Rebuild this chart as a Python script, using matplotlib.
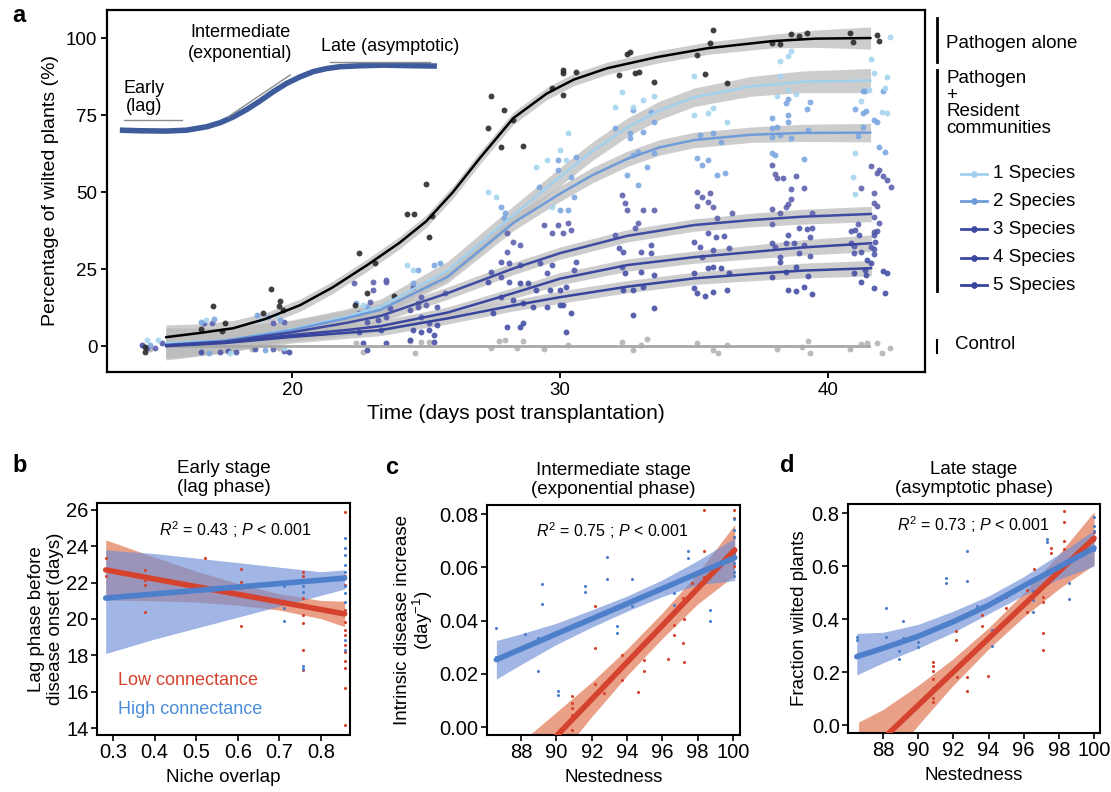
import numpy as np
import matplotlib
matplotlib.use("Agg")
import matplotlib.pyplot as plt
from matplotlib.lines import Line2D

plt.rcParams["font.family"] = ["Liberation Sans", "DejaVu Sans"]
plt.rcParams["mathtext.fontset"] = "custom"
plt.rcParams["mathtext.rm"] = "Liberation Sans"
plt.rcParams["mathtext.it"] = "Liberation Sans:italic"
plt.rcParams["font.size"] = 13

W, H = 1111, 792

# ---------------- panel a data ----------------
# (day, % wilted) observations
pathogen_pts = [(14.5, -0.3), (14.5, -2), (17.05, 13), (16.6, 5.5), (17.5, 7.5), (17.4, 4.9),
                (19.2, 18.5), (18.9, 10.7), (19.55, 14.6), (19.5, 13), (19.66, 11.7),
                (22.8, 17.2), (22.35, 13.3), (22.5, 30.2), (23.1, 27), (23.8, 16.2),
                (24.3, 42.9), (24.55, 42.9), (25.2, 42.2), (25.1, 35.4), (25.0, 52.6),
                (27.4, 81.2), (27.3, 70.8), (27.9, 76.6), (28.25, 73.4), (27.8, 64.6), (28.6, 64.9),
                (30.1, 89.6), (30.1, 88.6), (29.7, 83.8), (30.1, 81.5), (30.6, 89),
                (32.6, 95.5), (32.5, 94.8), (32.2, 88), (32.95, 89), (32.8, 88.6), (33.5, 85.7),
                (35.7, 102.6), (35.6, 98.4), (35.1, 94.5), (35.4, 88.3), (36.2, 85.4),
                (38.6, 101.3), (39.2, 101.6), (38.9, 100.6), (37.9, 98.4), (38.2, 98),
                (40.8, 101.6), (40.9, 98.7), (41.8, 101), (41.9, 99)]

control_pts = [(14.7, -1), (18.5, -1), (19.5, -0.5), (22.4, 1), (22.65, -1.9), (24.6, -2.3), (24.4, 1.6),
               (24.8, 1.3), (25.1, 1.3), (27.4, -0.6), (27.7, 1.6), (27.95, 1.9), (28.4, -0.6),
               (28.6, 1.6), (29.4, -1), (30.3, 0.3), (32.3, 1.3), (32.7, -1.3), (33.0, 0.3),
               (33.25, 2.3), (35.1, 1), (35.7, -1.3), (35.9, -2.3), (36.2, 0.3), (38.1, -1),
               (39.0, -0.3), (39.25, 1.6), (39.3, -2.3), (40.8, -1), (41.2, 0.6), (41.45, 1),
               (41.8, 1), (42.0, -2.3), (42.3, -0.6)]

sp1_pts = [(14.6, 1.9), (15.0, 1.9), (16.8, 8.4), (17.7, -2.3), (18.8, 8.4), (19.4, 10), (19.7, -0.6),
           (22.65, 13.3), (24.3, 26.3), (24.5, 24.7), (27.3, 50), (27.6, 48.4), (29.1, 58.1),
           (29.5, 60.4), (30.0, 63.6), (29.7, 45.1), (30.3, 69.2), (30.2, 60.4), (32.3, 82.5),
           (32.05, 77.6), (32.7, 77.6), (33.1, 79.9), (33.5, 81.2), (35.0, 87.7), (35.0, 75),
           (35.5, 75.6), (35.7, 77.3), (36.2, 72.7), (38.6, 95.8), (38.5, 94.2), (38.2, 92.5),
           (38.2, 87.7), (38.1, 81.2), (38.5, 83.1), (38.8, 81.8), (41.6, 93.2), (41.7, 88.6),
           (42.2, 87.3), (42.3, 100.3), (42.1, 83.8), (41.5, 83.1), (42.0, 76), (42.2, 75.6),
           (41.2, 79.5), (41.0, 62.7), (40.9, 54.9), (41.0, 49.4)]

sp2_pts = [(14.7, 0.3), (16.6, 7.8), (17.1, 8.8), (18.7, 10), (19.1, 9.4), (19.55, 8.4), (16.9, -2.3),
           (19.0, -1.3), (22.4, 14), (22.8, 12.7), (24.7, 24.7), (25.3, 26.3), (25.5, 27), (24.5, 20.5),
           (27.8, 45.1), (27.95, 43.2), (27.9, 41.6), (29.9, 60.4), (29.9, 57.1), (29.2, 51.6),
           (30.0, 44.2), (30.6, 61.4), (30.4, 54.9), (30.5, 48.4), (30.3, 44.2), (32.7, 76.6),
           (32.05, 70.8), (32.6, 69.2), (33.1, 69.5), (33.4, 76), (33.5, 72.7), (32.6, 67.5),
           (32.7, 62), (32.9, 63), (33.25, 58.1), (33.5, 62.7), (32.5, 55.5), (32.9, 52.3),
           (35.2, 68.5), (35.7, 69.2), (36.0, 66.2), (35.1, 61), (35.3, 58.8), (35.5, 60.4),
           (35.85, 55.5), (36.15, 56.2), (38.5, 80.2), (38.4, 78.9), (39.3, 79.2), (39.2, 76.9),
           (38.5, 75), (38.5, 72.7), (37.9, 74), (37.9, 70.8), (38.1, 71.1), (37.9, 67.9),
           (38.2, 68.5), (38.6, 67.5), (39.25, 70.1), (37.9, 62.7), (38.0, 62), (39.1, 60.7),
           (41.3, 82.8), (41.35, 82.8), (42.05, 82.8), (41.0, 76.9), (41.4, 76.3), (41.3, 75.6),
           (41.7, 73.4), (41.8, 72.7), (41.3, 71.1), (41.1, 68.2), (41.9, 64.6), (42.1, 63)]

sp3_pts = [(14.9, -0.6), (17.0, 7.5), (19.3, 7.5), (19.7, 7.8), (19.3, -1), (22.3, 20.5), (23.0, 18.2),
           (23.0, 20.8), (23.5, 20.8), (22.9, 14.3), (24.8, 15.9), (24.7, 14), (25.0, 13.3),
           (23.5, 21.4), (24.5, 19.2), (25.7, 17.2), (28.0, 36.7), (28.25, 33.8), (28.5, 32.8),
           (28.0, 30.5), (29.4, 39.3), (29.9, 39.3), (29.7, 36.7), (30.1, 36.7), (30.3, 39.9),
           (30.4, 37.7), (32.3, 49), (32.4, 46.4), (32.5, 44.2), (33.1, 44.2), (33.5, 44.2),
           (32.9, 39.9), (32.8, 38.3), (32.05, 36), (35.1, 50), (35.3, 48.4), (35.6, 49.7),
           (35.5, 46.8), (35.1, 45.5), (35.7, 45.1), (35.85, 41.6), (36.4, 43.2), (37.9, 58.8),
           (38.0, 55.8), (38.1, 54.5), (38.3, 54.5), (38.8, 55.2), (38.6, 51), (39.1, 51.3),
           (38.6, 47.7), (38.5, 46.1), (38.4, 45.1), (37.9, 44.5), (38.2, 43.2), (39.4, 43.2),
           (37.9, 39.6), (41.6, 58.4), (41.9, 57.1), (41.8, 56.2), (42.05, 55.2), (42.2, 53.9),
           (42.35, 51.6), (41.2, 51.3), (41.7, 49.7), (41.7, 46.4), (41.8, 45.5), (41.7, 41.9),
           (41.9, 39.9), (41.1, 39.6)]

sp4_pts = [(15.15, 1), (16.7, 7.5), (17.3, -1.9), (17.9, -1.9), (19.7, -1.6), (18.6, -1),
           (22.5, 10.7), (22.8, 7.8), (23.2, 8.4), (23.5, 9.4), (23.65, 12.3), (24.4, 11.7),
           (24.8, 9.4), (25.1, 7.5), (25.4, 12.7), (24.7, 12.7), (27.8, 27.3), (28.1, 26.9),
           (28.5, 26.3), (29.25, 26.9), (29.5, 23.7), (29.7, 26.3), (27.4, 24), (27.8, 22.4),
           (28.1, 20.8), (30.6, 27.3), (30.5, 24.7), (32.2, 31.8), (32.35, 30.5), (33.0, 30.5),
           (33.4, 32.8), (33.4, 30.2), (32.3, 25.6), (35.5, 36.7), (35.8, 35.4), (36.1, 35.7),
           (35.0, 33.8), (35.2, 32.1), (35.7, 31.2), (36.3, 31.8), (35.3, 28.9), (38.5, 36),
           (38.9, 38.3), (39.2, 38), (39.4, 38.3), (39.3, 35.4), (37.9, 33.4), (38.0, 32.1),
           (38.4, 33.4), (38.7, 33.4), (39.1, 32.8), (38.2, 28.9), (38.9, 30.2), (39.3, 29.2),
           (40.85, 37.3), (41.0, 37.7), (41.7, 37), (41.8, 37.3), (41.15, 36), (41.7, 36),
           (40.85, 33.4), (41.75, 33.8), (40.95, 32.5), (41.6, 32.1), (41.7, 31.5), (41.2, 30.5),
           (40.95, 30.2), (41.7, 29.9)]

sp5_pts = [(14.4, 0.3), (14.6, -0.6), (16.6, -1.9), (17.6, -1.6), (19.9, -1.9), (22.5, 4.5),
           (23.3, 5.2), (24.5, 5.2), (24.8, 4.5), (25.1, 5.2), (25.3, 3.6), (24.4, 1.9), (25.3, 1.3),
           (25.4, 6.8), (22.65, 1), (23.5, 1), (22.8, -1.3), (28.5, 20.5), (28.8, 20.5), (27.3, 20.8),
           (29.1, 18.2), (29.6, 18.2), (30.0, 18.2), (27.8, 15.9), (28.25, 14.9), (28.6, 14),
           (29.0, 12.7), (29.5, 12.7), (30.0, 13.3), (27.5, 10.7), (28.0, 6.2), (28.5, 6.2),
           (28.6, 7.5), (30.2, 4.5), (30.2, 19.2), (30.1, 13.3), (30.4, 10.7), (32.4, 23.7),
           (33.0, 24), (33.5, 23), (32.35, 18.2), (32.7, 18.2), (33.1, 19.2), (33.5, 12.3),
           (32.7, 10), (35.5, 25.3), (35.7, 25.6), (36.0, 25.3), (35.0, 23.7), (36.3, 23.7),
           (35.0, 18.8), (35.1, 17.2), (35.4, 16.2), (35.7, 17.5), (36.2, 18.2), (38.2, 27.3),
           (38.8, 25.6), (38.4, 24), (39.25, 22.7), (37.9, 22.4), (38.5, 18.2), (38.8, 17.9),
           (39.1, 19.2), (39.4, 16.9), (41.45, 27.9), (41.6, 26.9), (40.95, 23.7), (41.4, 23),
           (41.35, 24.7), (42.05, 24.4), (42.2, 23.7), (41.2, 20.8), (41.7, 18.8), (42.1, 17.2)]

# fitted curves (day, value, ci half-width)
fit_days_black = [15.3, 16.5, 17.8, 19.0, 20.3, 21.5, 22.8, 24.0, 25.0, 26.0, 27.0, 28.25, 29.5,
                  30.5, 31.75, 33.6, 35.5, 37.9, 39.5, 41.57]
fit_black = [2.9, 4.2, 5.8, 8.8, 13.3, 19.0, 26.3, 33.5, 40.5, 50.0, 61.0, 74.0, 82.0, 86.5, 90.2,
             93.8, 96.7, 99.0, 99.8, 100.0]
ci_black = [4, 3, 2.5, 2, 2, 2, 2, 2, 2, 2, 2, 2, 2, 2, 2, 2, 2, 2.2, 2.8, 3.6]

fit_days_12 = [15.3, 17.5, 20, 22, 23.3, 25.8, 28.25, 30, 31.2, 32.5, 33.7, 35, 37.1, 39, 41.57]
fit_sp1 = [1.0, 1.8, 5.5, 9.5, 12.8, 24.5, 42.5, 55, 63.3, 71, 76.5, 80.8, 84.3, 85.8, 86.2]
ci_sp1 = [5, 4, 3, 2.5, 2.5, 3, 3, 3, 3, 3, 3, 3, 3.2, 3.5, 3.9]
fit_sp2 = [0.5, 1.8, 5.2, 9, 11.8, 22.5, 40, 49.5, 55.5, 60.8, 64.5, 66.9, 68.6, 69.2, 69.3]
ci_sp2 = [5, 4, 3, 2.5, 2, 2, 2.5, 2.5, 2.5, 2.5, 2.5, 2.5, 2.5, 2.8, 3]

fit_days_345 = [15.3, 17.5, 20, 22, 23.3, 25.8, 28.25, 30, 32.5, 35, 37.1, 39, 41.6]
fit_sp3 = [0.3, 1.5, 4.5, 7.5, 9.8, 17.2, 25.2, 30.2, 35.8, 39.3, 40.9, 42, 42.9]
ci_sp3 = [4, 3, 2, 2, 2, 2, 2, 2, 2, 2, 2.2, 2.4, 2.5]
fit_sp4 = [0.2, 1.2, 3.6, 5.2, 6.5, 10.9, 17.2, 21.9, 26.3, 28.9, 30.5, 32, 33.4]
ci_sp4 = [4, 3, 2, 1.8, 1.8, 1.8, 1.8, 2, 2, 2, 2.2, 2.5, 2.7]
fit_sp5 = [0.0, 1.0, 3.0, 4.3, 5.2, 9.0, 13.2, 15.9, 19.3, 22.0, 23.4, 24.5, 25.3]
ci_sp5 = [4, 3, 2, 1.8, 1.8, 1.8, 1.8, 2, 2, 2, 2.2, 2.4, 2.5]

control_days = [15.3, 41.5]
control_fit = [0, 0]

# schematic sigmoid of the three stages
schema_x = [13.58, 14.33, 15.32, 16.07, 16.82, 17.31, 17.81, 18.31, 18.81, 19.30, 19.80, 20.30,
            20.79, 21.29, 21.79, 22.54, 23.41, 24.65, 25.40]
schema_y = [70.1, 69.9, 69.8, 70.1, 71.2, 72.5, 74.4, 76.8, 79.6, 82.6, 85.3, 87.4, 89.1, 90.1,
            90.7, 91.0, 91.2, 91.0, 90.9]

species_labels = ["1 Species", "2 Species", "3 Species", "4 Species", "5 Species"]

# ---------------- panel b data ----------------
b_low_x = [0.282, 0.282, 0.377, 0.377, 0.377, 0.377, 0.522, 0.607, 0.607, 0.607, 0.607,
           0.758, 0.758, 0.758, 0.758, 0.758, 0.758, 0.758, 0.758,
           0.857, 0.857, 0.857, 0.857, 0.857, 0.857, 0.857, 0.857, 0.857, 0.857, 0.857, 0.857, 0.857]
b_low_y = [23.34, 22.37, 22.67, 22.15, 21.88, 20.38, 23.36, 22.76, 22.06, 21.7, 19.59,
           22.6, 22.34, 21.15, 20.69, 20.23, 19.77, 18.3, 17.2,
           25.87, 22.34, 21.88, 20.5, 19.86, 19.4, 19.13, 18.58, 18.2, 17.67, 17.3, 16.2, 14.19]
b_high_x = [0.712, 0.712, 0.712, 0.712, 0.758, 0.758, 0.758, 0.758, 0.758,
            0.857, 0.857, 0.857, 0.857, 0.857, 0.857, 0.857, 0.857, 0.857, 0.857, 0.857, 0.857]
b_high_y = [21.79, 20.87, 20.6, 19.87, 22.15, 21.79, 21.5, 17.4, 17.25,
            24.48, 23.9, 23.53, 22.98, 22.6, 22.24, 21.79, 21.42, 20.96, 20.41, 18.86, 18.3]
b_fit_x = [0.282, 0.4, 0.5, 0.6, 0.7, 0.8, 0.857]
b_low_fit = [22.7, 22.2, 21.78, 21.36, 20.94, 20.52, 20.28]
b_low_lo = [21.05, 21.0, 20.93, 20.76, 20.49, 20.02, 19.58]
b_low_hi = [24.35, 23.4, 22.63, 21.96, 21.39, 21.02, 20.98]
b_high_fit = [21.15, 21.38, 21.57, 21.76, 21.95, 22.14, 22.25]
b_high_lo = [18.1, 18.9, 19.5, 20.1, 20.7, 21.3, 21.65]
b_high_hi = [23.8, 23.6, 23.35, 23.1, 22.85, 22.6, 22.7]

# ---------------- panel c data ----------------
c_high_x = [86.58, 86.58, 86.58, 88.23, 88.23, 88.97, 88.97, 89.19, 89.19, 90.08, 90.08, 91.62, 91.62,
            92.89, 92.89, 93.45, 93.45, 94.27, 94.27, 96.67, 96.67, 97.47, 97.47, 98.72, 98.72,
            100.05, 100.05, 100.05, 100.05, 100.05, 100.05, 100.05]
c_high_y = [0.0371, 0.0263, 0.0253, 0.035, 0.0305, 0.0334, 0.0211, 0.0536, 0.0463, 0.0134, 0.0121,
            0.0528, 0.0506, 0.064, 0.0555, 0.0381, 0.0355, 0.0555, 0.0453, 0.0503, 0.0459, 0.0661,
            0.0634, 0.044, 0.0399, 0.078, 0.074, 0.0715, 0.0653, 0.0615, 0.0584, 0.0568]
c_low_x = [90.9, 90.9, 90.9, 90.9, 90.9, 90.9, 92.17, 92.17, 92.2, 92.7, 92.79, 93.74, 93.74, 94.6,
           94.97, 94.97, 96.3, 96.67, 96.67, 97.15, 97.15, 97.24, 97.24, 97.66, 98.38, 98.38, 98.38,
           100.05, 100.05, 100.05, 100.05, 100.05]
c_low_y = [0.0115, 0.009, 0.0071, 0.0046, 0.0021, -0.001, 0.0453, 0.0296, 0.0161, 0.0128, 0.0159,
           0.0271, 0.0175, 0.0131, 0.025, 0.0209, 0.0256, 0.0384, 0.0346, 0.0484, 0.0315, 0.0406,
           0.0246, 0.054, 0.0661, 0.0815, 0.0565, 0.0815, 0.0784, 0.0713, 0.0653, 0.0603]
c_high_fx = [86.6, 88, 90, 92, 94, 96, 98, 100.1]
c_high_fit = [0.0253, 0.0293, 0.0350, 0.0406, 0.0463, 0.0520, 0.0577, 0.0636]
c_high_lo = [0.018, 0.0235, 0.031, 0.0375, 0.0435, 0.049, 0.0535, 0.055]
c_high_hi = [0.0325, 0.035, 0.039, 0.0440, 0.0492, 0.0553, 0.0625, 0.071]
c_low_fx = [88.5, 90, 92, 94, 96, 98, 100.1]
c_low_fit = [-0.0138, -0.0034, 0.0104, 0.0243, 0.0381, 0.052, 0.0665]
c_low_hw = [0.011, 0.009, 0.0065, 0.005, 0.0048, 0.0058, 0.0095]

# ---------------- panel d data ----------------
d_high_x = [86.52, 86.52, 88.19, 88.19, 88.91, 88.91, 89.14, 89.14, 89.99, 89.99, 91.55, 91.55,
            92.8, 92.8, 93.35, 93.35, 94.17, 94.17, 96.54, 96.54, 96.54, 97.34, 97.34, 98.59, 98.59,
            100.0, 100.0, 100.0, 100.0, 100.0]
d_high_y = [0.334, 0.321, 0.441, 0.334, 0.248, 0.281, 0.391, 0.328, 0.315, 0.296, 0.554, 0.535,
            0.655, 0.545, 0.45, 0.441, 0.359, 0.299, 0.504, 0.472, 0.428, 0.702, 0.689, 0.535, 0.475,
            0.785, 0.752, 0.734, 0.702, 0.661]
d_low_x = [90.85, 90.85, 90.85, 90.85, 90.85, 90.85, 90.85, 92.12, 92.12, 92.18, 92.75, 92.75,
           93.64, 93.64, 93.98, 94.97, 94.97, 96.2, 96.2, 96.6, 97.11, 97.11, 97.11, 97.11, 97.53,
           97.53, 98.29, 98.29, 98.29, 98.29, 100.0, 100.0]
d_low_y = [0.239, 0.223, 0.205, 0.173, 0.139, 0.101, 0.088, 0.353, 0.321, 0.183, 0.183, 0.13,
           0.416, 0.372, 0.186, 0.483, 0.441, 0.428, 0.508, 0.588, 0.485, 0.466, 0.346, 0.283,
           0.668, 0.649, 0.806, 0.766, 0.693, 0.664, 0.73, 0.7]
d_high_fx = [86.5, 88, 90, 92, 94, 96, 98, 100]
d_high_fit = [0.258, 0.29, 0.335, 0.39, 0.452, 0.525, 0.596, 0.668]
d_high_lo = [0.189, 0.235, 0.29, 0.35, 0.42, 0.49, 0.55, 0.6]
d_high_hi = [0.346, 0.35, 0.38, 0.43, 0.487, 0.56, 0.645, 0.735]
d_low_fx = [86.6, 88, 90, 92, 94, 96, 98, 100]
d_low_fit = [-0.139, -0.051, 0.075, 0.201, 0.327, 0.453, 0.579, 0.705]
d_low_hw = [0.15, 0.11, 0.075, 0.05, 0.04, 0.045, 0.065, 0.1]

# ---------------- styles ----------------
sp_dot_colors = ["#A6D5EF", "#7DA8E0", "#5E62AE", "#5259AB", "#4650A6"]
sp_line_colors = ["#A2D1EE", "#6F9CD9", "#3E4BA0", "#3B479F", "#37449C"]
band_grey = "#BDBDBD"
red_line, red_band = "#D5432E", "#E4805F"
blue_line, blue_band = "#4E7FCB", "#6F8FD6"


def fig_xy(px, py):
    return px / W, 1 - py / H


def style_small(ax):
    for s in ax.spines.values():
        s.set_linewidth(1.5)
    ax.tick_params(direction="out", length=4, width=1.2, labelsize=14.5, pad=2)


fig = plt.figure(figsize=(W / 100, H / 100), dpi=100)

# ================= panel a =================
ax = fig.add_axes([107 / W, 1 - 372 / H, 818 / W, 362 / H])
ax.set_xlim(13.1, 43.6)
ax.set_ylim(-8.4, 109.1)

curves = [(fit_days_black, fit_black, ci_black, "black"),
          (fit_days_12, fit_sp1, ci_sp1, sp_line_colors[0]),
          (fit_days_12, fit_sp2, ci_sp2, sp_line_colors[1]),
          (fit_days_345, fit_sp3, ci_sp3, sp_line_colors[2]),
          (fit_days_345, fit_sp4, ci_sp4, sp_line_colors[3]),
          (fit_days_345, fit_sp5, ci_sp5, sp_line_colors[4])]

for xs, ys, ci, col in curves:
    xs, ys, ci = np.array(xs), np.array(ys), np.array(ci)
    ax.fill_between(xs, ys - ci, ys + ci, color=band_grey, alpha=0.75, lw=0, zorder=1)

scatter_sets = [(control_pts, "#B4B4B4"), (sp5_pts, sp_dot_colors[4]), (sp4_pts, sp_dot_colors[3]),
                (sp3_pts, sp_dot_colors[2]), (sp2_pts, sp_dot_colors[1]), (sp1_pts, sp_dot_colors[0]),
                (pathogen_pts, "#2B2B2B")]
for pts, col in scatter_sets:
    p = np.array(pts)
    ax.scatter(p[:, 0], p[:, 1], s=18, color=col, alpha=0.9, lw=0, zorder=2)

ax.plot(control_days, control_fit, color="#A8A8A8", lw=2, zorder=3)
for xs, ys, ci, col in curves:
    ax.plot(xs, ys, color=col, lw=1.8, zorder=3, solid_capstyle="round", solid_joinstyle="round")

# schematic
ax.plot(schema_x, schema_y, color="#3E5C9C", lw=4, solid_capstyle="butt",
        solid_joinstyle="round", zorder=4)
ax.plot([13.73, 15.9], [73.4, 73.4], color="#8C8C8C", lw=1, zorder=4)
ax.plot([17.61, 19.93], [74.4, 88.0], color="#8C8C8C", lw=1, zorder=4)
ax.plot([21.42, 25.15], [92.2, 92.2], color="#8C8C8C", lw=1, zorder=4)
ax.text(14.5, 80.7, "Early\n(lag)", ha="center", va="center", fontsize=13, linespacing=1.15)
ax.text(18.06, 98.4, "Intermediate\n(exponential)", ha="center", va="center", fontsize=13,
        linespacing=1.25)
ax.text(23.66, 97.4, "Late (asymptotic)", ha="center", va="center", fontsize=13)

ax.set_xticks([20, 30, 40])
ax.set_yticks([0, 25, 50, 75, 100])
for s in ax.spines.values():
    s.set_linewidth(1.6)
ax.tick_params(direction="out", length=4, width=1.3, labelsize=13.5, pad=3)
ax.set_xlabel("Time (days post transplantation)", fontsize=15, labelpad=4)
ax.set_ylabel("Percentage of wilted plants (%)", fontsize=14, labelpad=5)


# right-hand key
def fig_line(x0, y0, x1, y1, **kw):
    (a0, b0), (a1, b1) = fig_xy(x0, y0), fig_xy(x1, y1)
    fig.add_artist(Line2D([a0, a1], [b0, b1], transform=fig.transFigure, **kw))


fig_line(937, 18, 937, 62, color="black", lw=2)
fig.text(*fig_xy(946, 44), "Pathogen alone", ha="left", va="center", fontsize=13.5)
fig_line(937, 70, 937, 291, color="black", lw=2)
fig.text(*fig_xy(946, 70), "Pathogen\n+\nResident\ncommunities", ha="left", va="top",
         fontsize=13.5, linespacing=0.97)
for i, lab in enumerate(species_labels):
    yy = [174, 201, 229, 258, 285][i]
    fig_line(961, yy, 987, yy, color=sp_line_colors[i], lw=2)
    fig_line(974, yy, 974, yy, color=sp_line_colors[i], marker="o", ms=3.5, lw=0)
    fig.text(*fig_xy(993, yy), lab, ha="left", va="center", fontsize=13.5)
fig_line(937, 340, 937, 353, color="black", lw=1.5)
fig.text(*fig_xy(955, 345), "Control", ha="left", va="center", fontsize=13.5)

# ================= panel b =================
axb = fig.add_axes([97 / W, 1 - 735 / H, 253 / W, 232 / H])
axb.fill_between(b_fit_x, b_low_lo, b_low_hi, color=red_band, alpha=0.75, lw=0, zorder=1)
axb.fill_between(b_fit_x, b_high_lo, b_high_hi, color=blue_band, alpha=0.65, lw=0, zorder=1)
axb.scatter(b_low_x, b_low_y, s=5, color=red_line, lw=0, zorder=2)
axb.scatter(b_high_x, b_high_y, s=5, color=blue_line, lw=0, zorder=2)
axb.plot(b_fit_x, b_low_fit, color=red_line, lw=4, solid_capstyle="round", zorder=3)
axb.plot(b_fit_x, b_high_fit, color=blue_line, lw=4, solid_capstyle="round", zorder=3)
axb.set_xlim(0.261, 0.870)
axb.set_ylim(13.62, 26.38)
axb.set_xticks([0.3, 0.4, 0.5, 0.6, 0.7, 0.8])
axb.set_yticks([14, 16, 18, 20, 22, 24, 26])
style_small(axb)
axb.set_title("Early stage\n(lag phase)", fontsize=13.5, pad=8, linespacing=1.12)
axb.set_xlabel("Niche overlap", fontsize=13.5, labelpad=5)
axb.set_ylabel("Lag phase before\ndisease onset (days)", fontsize=13.5, labelpad=2,
               linespacing=1.1)
axb.text(0.545, 0.884, "$R^2$ = 0.43 ; $P$ < 0.001", transform=axb.transAxes, ha="center",
         va="center", fontsize=11.5)
axb.text(0.083, 0.237, "Low connectance", transform=axb.transAxes, color=red_line, fontsize=13,
         va="center")
axb.text(0.083, 0.108, "High connectance", transform=axb.transAxes, color="#4A8DD8", fontsize=13,
         va="center")

# ================= panel c =================
axc = fig.add_axes([487 / W, 1 - 735 / H, 253 / W, 230 / H])
lo = np.array(c_low_fit) - np.array(c_low_hw)
hi = np.array(c_low_fit) + np.array(c_low_hw)
axc.fill_between(c_low_fx, lo, hi, color=red_band, alpha=0.75, lw=0, zorder=1)
axc.fill_between(c_high_fx, c_high_lo, c_high_hi, color=blue_band, alpha=0.65, lw=0, zorder=1)
axc.scatter(c_low_x, c_low_y, s=5, color=red_line, lw=0, zorder=2)
axc.scatter(c_high_x, c_high_y, s=5, color=blue_line, lw=0, zorder=2)
axc.plot(c_low_fx, c_low_fit, color=red_line, lw=4, solid_capstyle="round", zorder=3)
axc.plot(c_high_fx, c_high_fit, color=blue_line, lw=4, solid_capstyle="round", zorder=3)
axc.set_xlim(86.07, 100.4)
axc.set_ylim(-0.003, 0.0834)
axc.set_xticks([88, 90, 92, 94, 96, 98, 100])
axc.set_yticks([0.0, 0.02, 0.04, 0.06, 0.08])
axc.set_yticklabels(["0.00", "0.02", "0.04", "0.06", "0.08"])
style_small(axc)
axc.set_title("Intermediate stage\n(exponential phase)", fontsize=13.5, pad=8, linespacing=1.12)
axc.set_xlabel("Nestedness", fontsize=13.5, labelpad=5)
axc.set_ylabel("Intrinsic disease increase\n(day$^{-1}$)", fontsize=13.5, labelpad=3,
               linespacing=1.0)
axc.text(0.494, 0.89, "$R^2$ = 0.75 ; $P$ < 0.001", transform=axc.transAxes, ha="center",
         va="center", fontsize=11.5)

# ================= panel d =================
axd = fig.add_axes([848 / W, 1 - 733 / H, 252 / W, 229 / H])
lo = np.array(d_low_fit) - np.array(d_low_hw)
hi = np.array(d_low_fit) + np.array(d_low_hw)
axd.fill_between(d_low_fx, lo, hi, color=red_band, alpha=0.75, lw=0, zorder=1)
axd.fill_between(d_high_fx, d_high_lo, d_high_hi, color=blue_band, alpha=0.65, lw=0, zorder=1)
axd.scatter(d_low_x, d_low_y, s=5, color=red_line, lw=0, zorder=2)
axd.scatter(d_high_x, d_high_y, s=5, color=blue_line, lw=0, zorder=2)
axd.plot(d_low_fx, d_low_fit, color=red_line, lw=4, solid_capstyle="round", zorder=3)
axd.plot(d_high_fx, d_high_fit, color=blue_line, lw=4, solid_capstyle="round", zorder=3)
axd.set_xlim(86.0, 100.34)
axd.set_ylim(-0.03, 0.834)
axd.set_xticks([88, 90, 92, 94, 96, 98, 100])
axd.set_yticks([0.0, 0.2, 0.4, 0.6, 0.8])
axd.set_yticklabels(["0.0", "0.2", "0.4", "0.6", "0.8"])
style_small(axd)
axd.set_title("Late stage\n(asymptotic phase)", fontsize=13.5, pad=8, linespacing=1.12)
axd.set_xlabel("Nestedness", fontsize=13.5, labelpad=5)
axd.set_ylabel("Fraction wilted plants", fontsize=13.5, labelpad=3)
axd.text(0.496, 0.908, "$R^2$ = 0.73 ; $P$ < 0.001", transform=axd.transAxes, ha="center",
         va="center", fontsize=11.5)

# panel letters
for lab, (px, py) in zip("abcd", [(12, 16), (12, 465), (385, 467), (780, 465)]):
    fig.text(*fig_xy(px, py), lab, fontsize=17, fontweight="bold", ha="left", va="center")

fig.savefig("out.png", dpi=100)
